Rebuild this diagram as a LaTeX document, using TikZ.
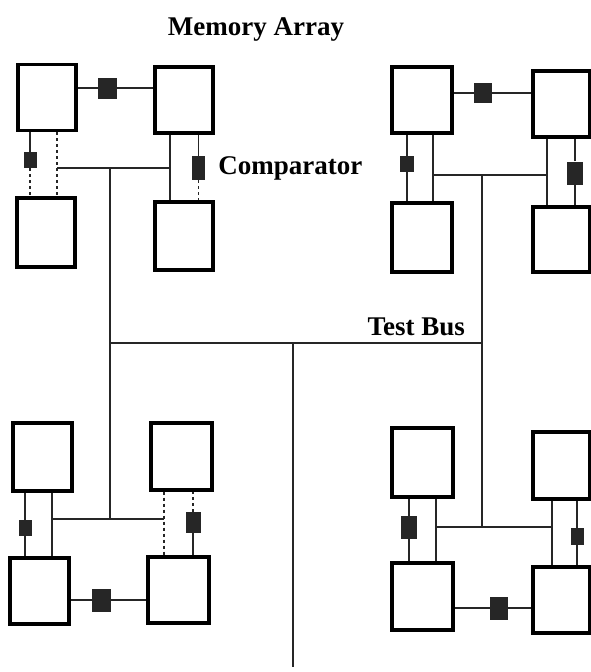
\documentclass[tikz,border=0pt]{standalone}
\usepackage{fontspec}
\setmainfont{Liberation Serif}
\usetikzlibrary{positioning}
\tikzset{
  cell/.style={draw, line width=3.2pt, minimum width=58pt, minimum height=66pt, inner sep=0pt},
  cmp/.style 2 args={fill=black!85, inner sep=0pt, minimum width=#1pt, minimum height=#2pt},
  wire/.style={line width=1.5pt, black!85},
  lbl/.style={inner sep=0pt, font=\fontsize{27}{30}\selectfont\bfseries}
}
\begin{document}
\begin{tikzpicture}[x=1pt, y=-1pt]
\useasboundingbox (0,0) rectangle (591,672);

\node[lbl, anchor=base] (title) at (256,35) {Memory Array};

% top left array
\node[cell] (a1) at (47,97.5) {};
\node[cell] (a2) at (184,100) {};
\node[cell, minimum height=69pt] (a3) at (46,232.5) {};
\node[cell, minimum height=68pt] (a4) at (184,236) {};
\node[cmp={19}{21}] (a12) at (107.5,88) {};
\node[cmp={13}{16}] (a13) at (30,160) {};
\node[cmp={13}{24}] (a24) at (198.5,168) {};
\node[lbl, right=13pt of a24] (cmplbl) {Comparator};
\draw[wire] (a12) -- (a12 -| a1.east);
\draw[wire] (a12) -- (a12 -| a2.west);
\draw[wire] (a13) -- (a13 |- a1.south);
\draw[wire, dashed] (a13) -- (a13 |- a3.north);
\draw[wire] (a24) -- (a24 |- a2.south);
\draw[wire, dashed] (a24) -- (a24 |- a4.north);
\coordinate (ax) at (57,168);
\coordinate (ay) at (170,168);
\draw[wire, dashed] (ax |- a1.south) -- (ax |- a3.north);
\draw[wire] (ay |- a2.south) -- (ay |- a4.north);
\draw[wire] (ax) -- (ay);

% top right array
\node[cell, minimum width=60pt] (b1) at (422,100) {};
\node[cell, minimum width=57pt] (b2) at (561.5,104) {};
\node[cell, minimum width=60pt, minimum height=69pt] (b3) at (422,237.5) {};
\node[cell, minimum width=57pt, minimum height=65pt] (b4) at (561.5,239.5) {};
\node[cmp={18}{20}] (b12) at (483,93) {};
\node[cmp={14}{16}] (b13) at (407,164) {};
\node[cmp={16}{23}] (b24) at (575,173) {};
\draw[wire] (b12) -- (b12 -| b1.east);
\draw[wire] (b12) -- (b12 -| b2.west);
\draw[wire] (b13) -- (b13 |- b1.south);
\draw[wire] (b13) -- (b13 |- b3.north);
\draw[wire] (b24) -- (b24 |- b2.south);
\draw[wire] (b24) -- (b24 |- b4.north);
\coordinate (bx) at (433,175);
\coordinate (by) at (547,175);
\draw[wire] (bx |- b1.south) -- (bx |- b3.north);
\draw[wire] (by |- b2.south) -- (by |- b4.north);
\draw[wire] (bx) -- (by);

% bottom left array
\node[cell, minimum width=59pt, minimum height=68pt] (c1) at (42.5,457) {};
\node[cell, minimum width=61pt, minimum height=67pt] (c2) at (181.5,456.5) {};
\node[cell, minimum width=59pt] (c3) at (39.5,591) {};
\node[cell, minimum width=61pt] (c4) at (178.5,590) {};
\node[cmp={19}{23}] (c34) at (101.5,600) {};
\node[cmp={13}{16}] (c13) at (25,528) {};
\node[cmp={15}{21}] (c24) at (193,522.5) {};
\draw[wire] (c34) -- (c34 -| c3.east);
\draw[wire] (c34) -- (c34 -| c4.west);
\draw[wire] (c13) -- (c13 |- c1.south);
\draw[wire] (c13) -- (c13 |- c3.north);
\draw[wire, dashed] (c24) -- (c24 |- c2.south);
\draw[wire] (c24) -- (c24 |- c4.north);
\coordinate (cx) at (52,519);
\coordinate (cy) at (164,519);
\draw[wire] (cx |- c1.south) -- (cx |- c3.north);
\draw[wire, dashed] (cy |- c2.south) -- (cy |- c4.north);
\draw[wire] (cx) -- (cy);

% bottom right array
\node[cell, minimum width=61pt, minimum height=69pt] (d1) at (422.5,462.5) {};
\node[cell, minimum width=57pt, minimum height=67pt] (d2) at (561.5,465.5) {};
\node[cell, minimum width=61pt, minimum height=67pt] (d3) at (422.5,596.5) {};
\node[cell, minimum width=57pt] (d4) at (561.5,600) {};
\node[cmp={18}{23}] (d34) at (499,608) {};
\node[cmp={16}{23}] (d13) at (409,527.5) {};
\node[cmp={13}{17}] (d24) at (577,536.5) {};
\draw[wire] (d34) -- (d34 -| d3.east);
\draw[wire] (d34) -- (d34 -| d4.west);
\draw[wire] (d13) -- (d13 |- d1.south);
\draw[wire] (d13) -- (d13 |- d3.north);
\draw[wire] (d24) -- (d24 |- d2.south);
\draw[wire] (d24) -- (d24 |- d4.north);
\coordinate (dx) at (436,527);
\coordinate (dy) at (552,527);
\draw[wire] (dx |- d1.south) -- (dx |- d3.north);
\draw[wire] (dy |- d2.south) -- (dy |- d4.north);
\draw[wire] (dx) -- (dy);

% test bus
\coordinate (busl) at (110,343);
\coordinate (busm) at (293,343);
\coordinate (busr) at (482,343);
\coordinate (busend) at (293,667);
\node[lbl, anchor=base east] (buslbl) at (465,335) {Test Bus};
\draw[wire] (busl) -- (busr);
\draw[wire] (busl |- ax) -- (busl |- cx);
\draw[wire] (busr |- bx) -- (busr |- dx);
\draw[wire] (busm) -- (busend);
\end{tikzpicture}
\end{document}
